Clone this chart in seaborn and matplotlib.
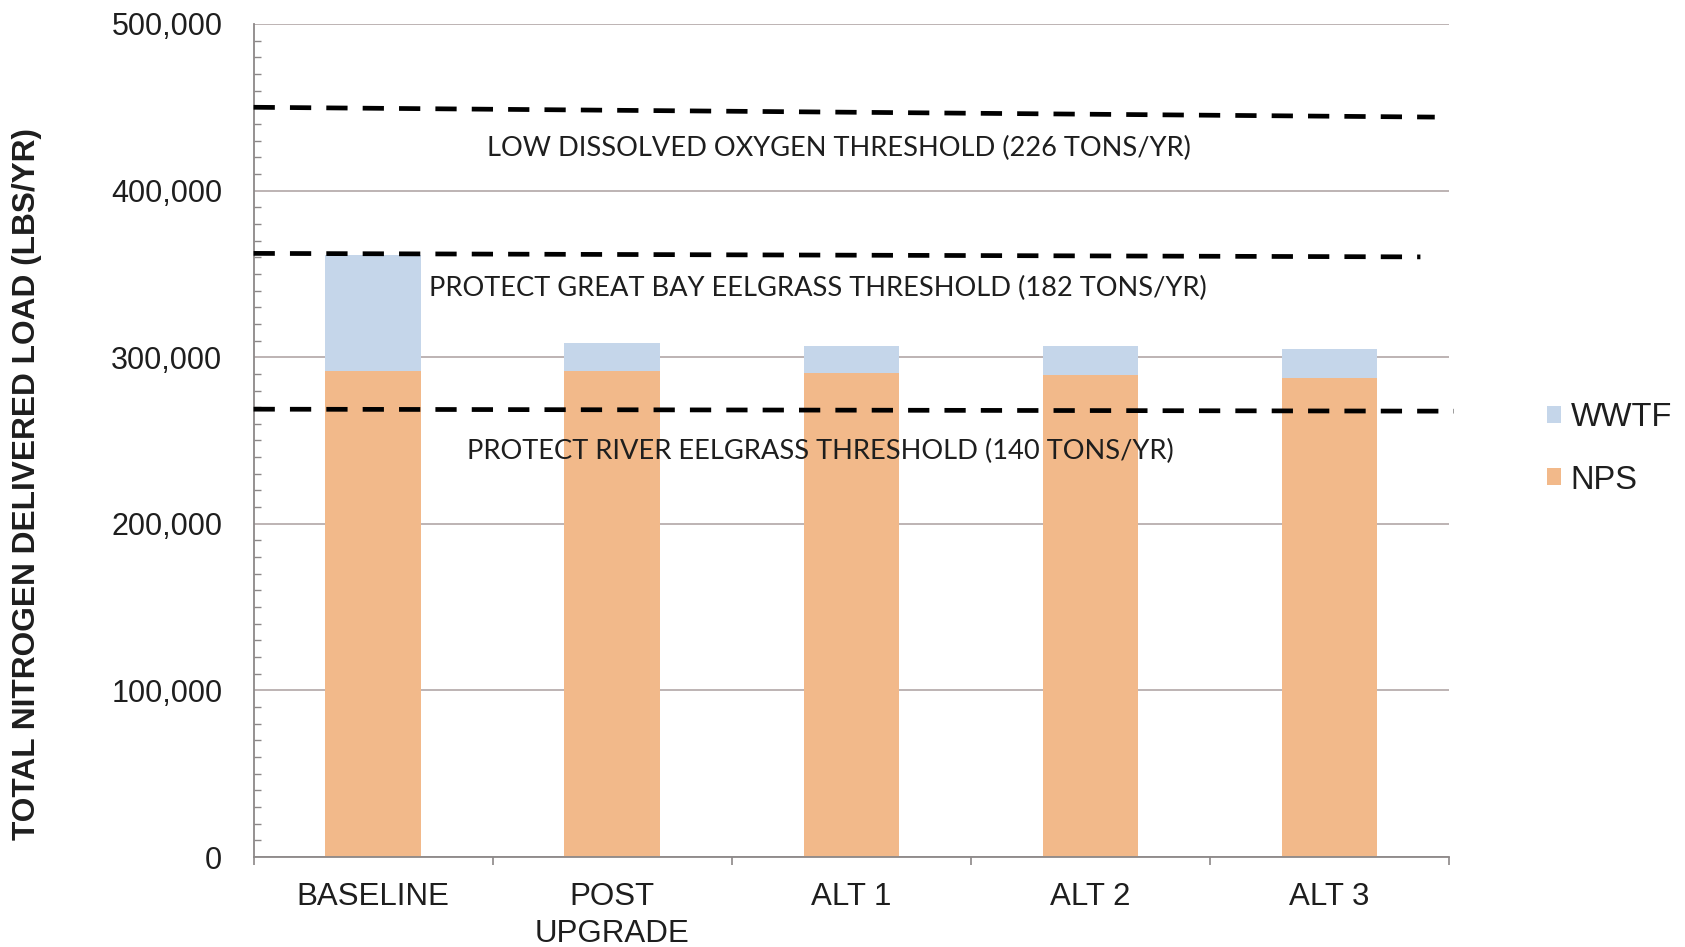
import matplotlib
matplotlib.use("Agg")
import matplotlib.pyplot as plt
import pandas as pd
import seaborn as sns
from matplotlib.patches import Patch
from matplotlib.ticker import FuncFormatter, MultipleLocator, FixedLocator

# Delivered nitrogen load by scenario (lbs/yr)
scenarios = ["BASELINE", "POST\nUPGRADE", "ALT 1", "ALT 2", "ALT 3"]
nps_load = [292000, 292000, 290500, 289500, 287500]
wwtf_load = [69500, 16500, 16500, 17500, 17500]

# Threshold reference lines: value at left edge, value at right end, x extent
threshold_labels = [
    "LOW DISSOLVED OXYGEN THRESHOLD (226 TONS/YR)",
    "PROTECT GREAT BAY EELGRASS THRESHOLD (182 TONS/YR)",
    "PROTECT RIVER EELGRASS THRESHOLD (140 TONS/YR)",
]
threshold_left = [450000, 362300, 268800]
threshold_right = [444100, 360200, 267600]
threshold_xend = [4.44, 4.38, 4.52]
threshold_label_x = [1.95, 1.86, 1.87]
threshold_label_y = [425000, 341000, 243500]

wwtf_color = "#c5d6ea"
nps_color = "#f2b98a"
grid_color = "#bdb3b3"
axis_color = "#8c8888"
text_color = "#1e1e1e"

sns.set_theme(style="white")
plt.rcParams["font.family"] = ["Liberation Sans", "DejaVu Sans"]

fig = plt.figure(figsize=(16.85, 9.47), dpi=100)
ax = fig.add_axes([0.1505, 0.095, 0.7095, 0.8797])

df = pd.DataFrame({"scenario": scenarios, "NPS": nps_load, "WWTF": wwtf_load})
df["total"] = df["NPS"] + df["WWTF"]

# Stacked bars: total (WWTF on top) drawn first, NPS drawn over it
sns.barplot(data=df, x="scenario", y="total", color=wwtf_color, width=0.4,
            saturation=1, linewidth=0, ax=ax, zorder=2)
sns.barplot(data=df, x="scenario", y="NPS", color=nps_color, width=0.4,
            saturation=1, linewidth=0, ax=ax, zorder=2)

ax.set_xlim(-0.5, 4.5)
ax.set_ylim(0, 500000)
ax.set_xlabel("")
ax.set_ylabel("")

# Threshold dashed lines and their labels
for lab, y0, y1, xe, lx, ly in zip(threshold_labels, threshold_left, threshold_right,
                                   threshold_xend, threshold_label_x, threshold_label_y):
    ax.plot([-0.5, xe], [y0, y1], color="black", lw=3.4, dashes=(4.5, 3.2),
            dash_capstyle="butt", clip_on=False, zorder=4)
    ax.text(lx, ly, lab, ha="center", va="center", fontsize=19.6,
            family=["Lato", "DejaVu Sans"], color=text_color, zorder=5)

# Axes styling
ax.set_axisbelow(True)
ax.yaxis.grid(True, color=grid_color, lw=1.4)
ax.xaxis.grid(False)
for side in ("top", "right"):
    ax.spines[side].set_visible(False)
for side in ("left", "bottom"):
    ax.spines[side].set_color(axis_color)
    ax.spines[side].set_linewidth(1.3)

ax.yaxis.set_major_locator(MultipleLocator(100000))
ax.yaxis.set_minor_locator(MultipleLocator(10000))
ax.yaxis.set_major_formatter(FuncFormatter(lambda v, p: f"{int(v):,}"))
ax.tick_params(axis="y", which="major", direction="out", length=6.5, width=1.2,
               color=axis_color, labelsize=22, labelcolor=text_color, pad=16)
ax.tick_params(axis="y", which="minor", direction="in", length=5, width=1.0,
               color=axis_color, left=True)

ax.xaxis.set_minor_locator(FixedLocator([-0.5, 0.5, 1.5, 2.5, 3.5, 4.5]))
ax.tick_params(axis="x", which="major", length=0, labelsize=22.5,
               labelcolor=text_color, pad=18)
ax.tick_params(axis="x", which="minor", direction="out", length=6, width=1.2,
               color=axis_color, bottom=True)
for t in ax.get_xticklabels():
    t.set_linespacing(1.3)

fig.text(27 / 1685, 1 - 484 / 947, "TOTAL NITROGEN DELIVERED LOAD (LBS/YR)",
         rotation=90, ha="center", va="center", fontsize=22.8, fontweight="bold",
         color=text_color)

handles = [Patch(facecolor=wwtf_color, edgecolor="none"),
           Patch(facecolor=nps_color, edgecolor="none")]
fig.legend(handles, ["WWTF", "NPS"], loc="center left",
           bbox_to_anchor=(1531 / 1685, 1 - 449 / 947), frameon=False,
           fontsize=23.5, handlelength=0.42, handleheight=0.42, handletextpad=0.3,
           labelspacing=0.95, borderpad=0, labelcolor=text_color)

fig.savefig("out.png", dpi=100)
